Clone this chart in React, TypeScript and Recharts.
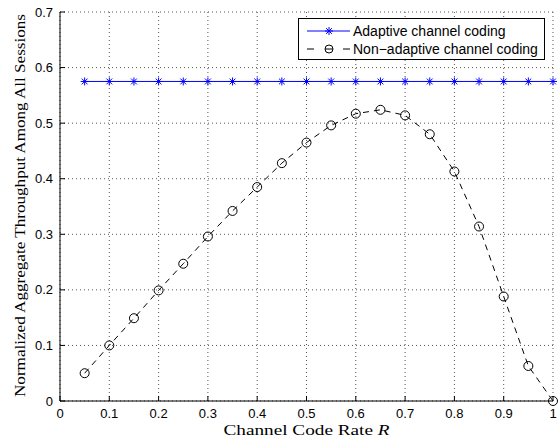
import React from "react";
import { CartesianGrid, Label, Line, LineChart, XAxis, YAxis } from "recharts";

// Values.
const codeRates = [0.05, 0.1, 0.15, 0.2, 0.25, 0.3, 0.35, 0.4, 0.45, 0.5, 0.55, 0.6, 0.65, 0.7, 0.75, 0.8, 0.85, 0.9, 0.95, 1.0];
const adaptiveThroughput = [0.575, 0.575, 0.575, 0.575, 0.575, 0.575, 0.575, 0.575, 0.575, 0.575, 0.575, 0.575, 0.575, 0.575, 0.575, 0.575, 0.575, 0.575, 0.575, 0.575];
const nonAdaptiveThroughput = [0.05, 0.1, 0.149, 0.199, 0.247, 0.296, 0.342, 0.385, 0.428, 0.465, 0.496, 0.517, 0.524, 0.514, 0.48, 0.413, 0.314, 0.188, 0.063, 0];

const xTicks = [0, 0.1, 0.2, 0.3, 0.4, 0.5, 0.6, 0.7, 0.8, 0.9, 1];
const yTicks = [0, 0.1, 0.2, 0.3, 0.4, 0.5, 0.6, 0.7];

const seriesNames = ["Adaptive channel coding", "Non\u2212adaptive channel coding"];

const BLUE = "#0000ff";
const TICK_FONT = "'Liberation Sans', Arial, Helvetica, sans-serif";
const LABEL_FONT = "'Liberation Serif', 'Times New Roman', serif";

const data = codeRates.map((r, i) => ({
  r,
  adaptive: adaptiveThroughput[i],
  nonAdaptive: nonAdaptiveThroughput[i],
}));

const tickStyle = { fontSize: 13, fill: "#000", fontFamily: TICK_FONT };

// MATLAB-style '*' marker: a plus and a cross on top of each other.
function StarDot(props: any) {
  const { cx, cy } = props;
  if (cx == null || cy == null) return null;
  const a = 4;
  const d = 2.9;
  return (
    <g stroke={BLUE} strokeWidth={1}>
      <line x1={cx - a} y1={cy} x2={cx + a} y2={cy} />
      <line x1={cx} y1={cy - a} x2={cx} y2={cy + a} />
      <line x1={cx - d} y1={cy - d} x2={cx + d} y2={cy + d} />
      <line x1={cx - d} y1={cy + d} x2={cx + d} y2={cy - d} />
    </g>
  );
}

function CircleDot(props: any) {
  const { cx, cy } = props;
  if (cx == null || cy == null) return null;
  return <circle cx={cx} cy={cy} r={4.5} fill="none" stroke="#000" strokeWidth={1} />;
}

// Computer Modern is wider than Liberation Serif, so the titles are
// stretched to the length they have in the reference.
function XTitle(props: any) {
  const { viewBox } = props;
  return (
    <text
      x={viewBox.x + viewBox.width / 2}
      y={viewBox.y + 34}
      textAnchor="middle"
      fontFamily={LABEL_FONT}
      fontSize={15.5}
      textLength={166}
      lengthAdjust="spacingAndGlyphs"
      fill="#000"
    >
      Channel Code Rate <tspan fontStyle="italic">R</tspan>
    </text>
  );
}

function YTitle(props: any) {
  const { viewBox } = props;
  const x = 25;
  const y = viewBox.y + viewBox.height / 2 - 1;
  return (
    <text
      x={x}
      y={y}
      transform={`rotate(-90, ${x}, ${y})`}
      textAnchor="middle"
      fontFamily={LABEL_FONT}
      fontSize={15.5}
      textLength={383}
      lengthAdjust="spacingAndGlyphs"
      fill="#000"
    >
      Normalized Aggregate Throughput Among All Sessions
    </text>
  );
}

function LegendBox() {
  return (
    <div
      style={{
        position: "absolute",
        left: 298,
        top: 18,
        width: 247,
        height: 42,
        boxSizing: "border-box",
        border: "1px solid #000",
        background: "#fff",
        fontFamily: TICK_FONT,
        fontSize: 14,
        color: "#000",
      }}
    >
      {seriesNames.map((name, i) => (
        <div key={name} style={{ position: "absolute", left: 0, top: i === 0 ? 3 : 21, height: 18, display: "flex", alignItems: "center" }}>
          <svg width={54} height={18} style={{ display: "block" }}>
            {i === 0 ? (
              <g>
                <line x1={8} y1={9} x2={51} y2={9} stroke={BLUE} strokeWidth={1} />
                <StarDot cx={30} cy={9} />
              </g>
            ) : (
              <g stroke="#000" strokeWidth={1}>
                <line x1={8} y1={9} x2={15} y2={9} />
                <line x1={44} y1={9} x2={51} y2={9} />
                <line x1={26} y1={9} x2={34} y2={9} />
                <circle cx={30} cy={9} r={4} fill="none" />
              </g>
            )}
          </svg>
          <span style={{ marginLeft: 0, whiteSpace: "nowrap" }}>{name}</span>
        </div>
      ))}
    </div>
  );
}

export default function App() {
  return (
    <div style={{ position: "absolute", left: 0, top: 0, width: 559, height: 440, background: "#fff" }}>
      <LineChart width={559} height={440} data={data} margin={{ top: 12, right: 6, bottom: 0, left: 0 }}>
        <CartesianGrid stroke="#555" strokeDasharray="1 3" />
        <XAxis
          dataKey="r"
          type="number"
          domain={[0, 1]}
          ticks={xTicks}
          height={39}
          tickSize={-5}
          tickMargin={13}
          tick={tickStyle}
          axisLine={{ stroke: "#000" }}
          tickLine={{ stroke: "#000" }}
          interval={0}
        >
          <Label content={XTitle} />
        </XAxis>
        <XAxis
          xAxisId="top"
          orientation="top"
          type="number"
          domain={[0, 1]}
          ticks={xTicks}
          height={0}
          tickSize={-5}
          tick={false}
          axisLine={{ stroke: "#000" }}
          tickLine={{ stroke: "#000" }}
        />
        <YAxis
          type="number"
          domain={[0, 0.7]}
          ticks={yTicks}
          width={60}
          tickSize={-5}
          tickMargin={12}
          tick={tickStyle}
          axisLine={{ stroke: "#000" }}
          tickLine={{ stroke: "#000" }}
          interval={0}
        >
          <Label content={YTitle} />
        </YAxis>
        <YAxis
          yAxisId="right"
          orientation="right"
          type="number"
          domain={[0, 0.7]}
          ticks={yTicks}
          width={0}
          tickSize={-5}
          tick={false}
          axisLine={{ stroke: "#000" }}
          tickLine={{ stroke: "#000" }}
        />
        <Line
          dataKey="adaptive"
          name={seriesNames[0]}
          type="linear"
          stroke={BLUE}
          strokeWidth={1}
          dot={<StarDot />}
          isAnimationActive={false}
        />
        <Line
          dataKey="nonAdaptive"
          name={seriesNames[1]}
          type="linear"
          stroke="#000"
          strokeWidth={1}
          strokeDasharray="6 5"
          dot={<CircleDot />}
          isAnimationActive={false}
        />
      </LineChart>
      <LegendBox />
    </div>
  );
}
